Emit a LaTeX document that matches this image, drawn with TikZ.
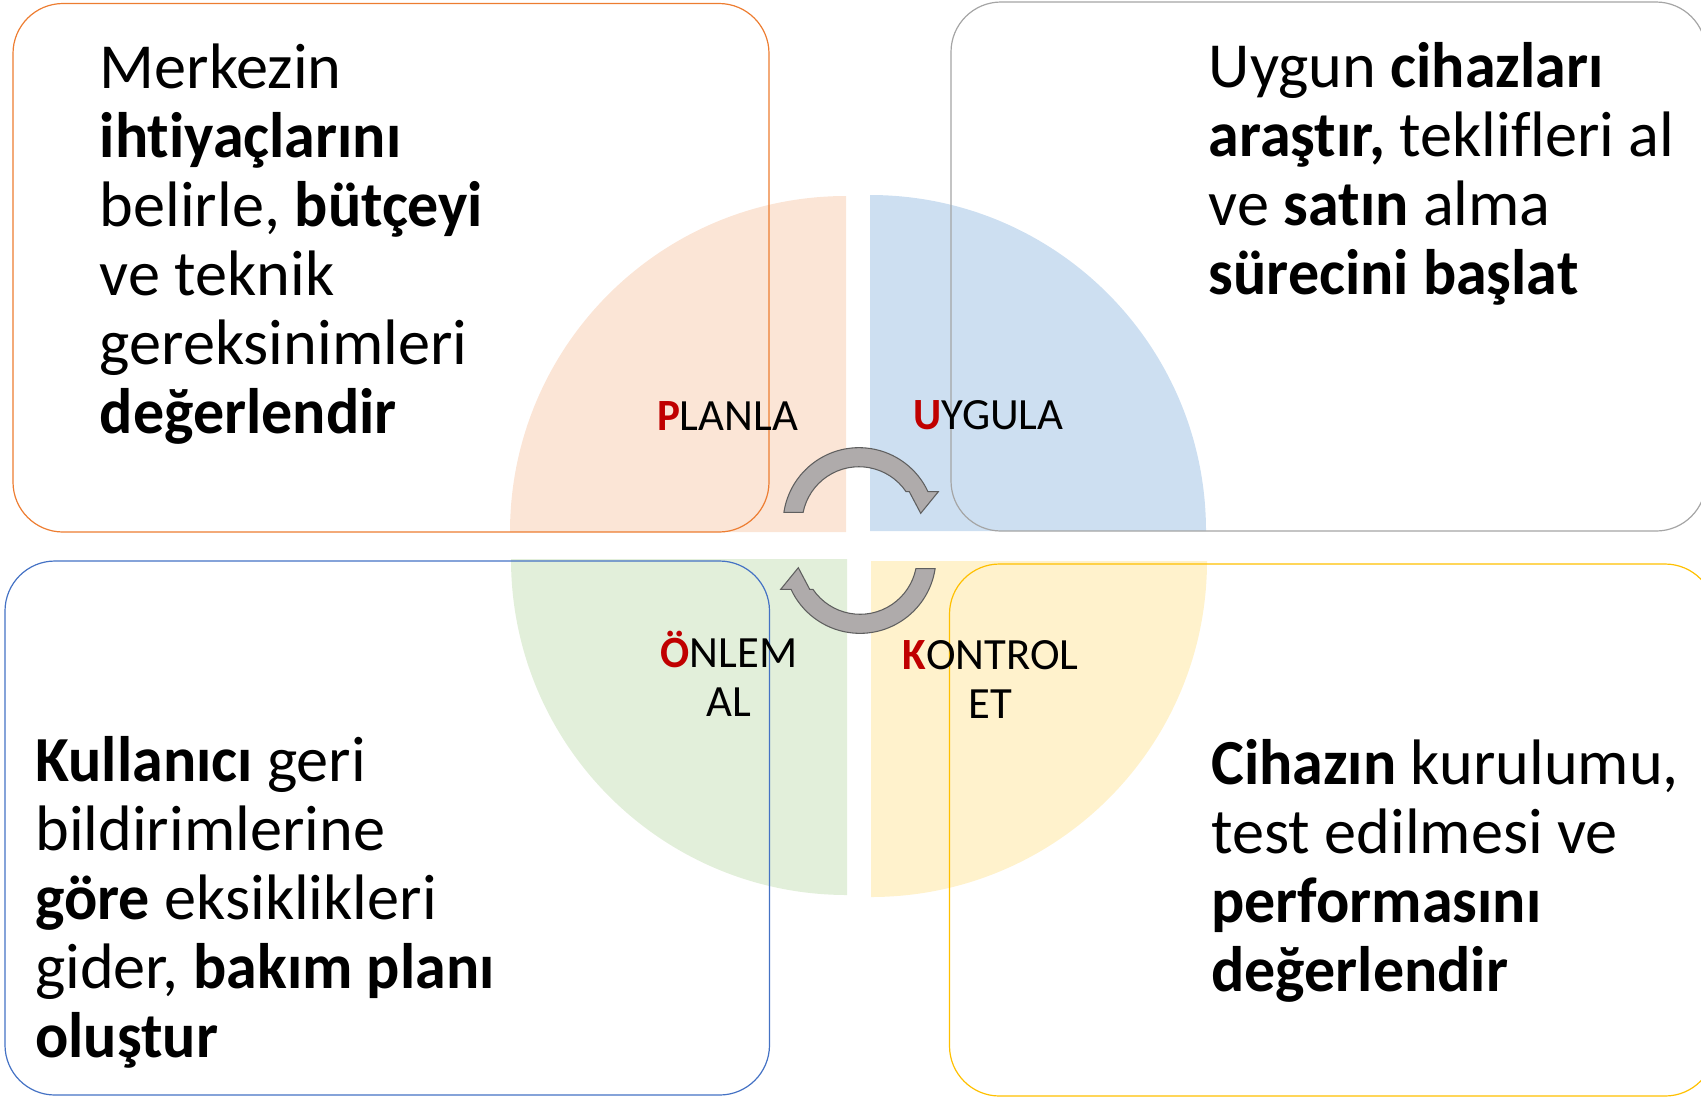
\documentclass[tikz,border=0pt]{standalone}
\usepackage{fontspec}
\setmainfont{Carlito}[Ligatures=NoCommon, BoldFeatures={FakeStretch=0.965}]
\definecolor{qpeach}{HTML}{FBE5D6}
\definecolor{qblue}{HTML}{CDDFF1}
\definecolor{qgreen}{HTML}{E2EFDA}
\definecolor{qyellow}{HTML}{FFF2CC}
\definecolor{borange}{HTML}{ED7D31}
\definecolor{bgray}{HTML}{A5A5A5}
\definecolor{bblue}{HTML}{4472C4}
\definecolor{bgold}{HTML}{FFC000}
\definecolor{arrfill}{HTML}{AFABAB}
\definecolor{arrline}{HTML}{5F5F5F}
\definecolor{pdcared}{HTML}{C00000}
\begin{document}
\begin{tikzpicture}[x=0.75pt,y=-0.75pt,
  card/.style={rounded corners=37.5pt, line width=0.9pt},
  bigtext/.style={anchor=base west, inner sep=0pt,
    font={\fontsize{48.2}{51.75}\selectfont\lineskiplimit=-100pt}},
  phase/.style={anchor=base, inner sep=0pt,
    font={\fontsize{33.5}{36.75}\selectfont\lineskiplimit=-100pt}},
  cyclearrow/.pic={
    \filldraw[fill=arrfill, draw=arrline, line width=0.8pt, line join=miter]
      (-75.1,-11.4) arc[start angle=188.6, end angle=335.1, radius=76]
      -- (79.3,-32) -- (61.7,-10.4) -- (50.3,-32) -- (47.1,-32)
      arc[start angle=325.8, end angle=191.5, radius=57] -- cycle;
  }]
\path[use as bounding box] (0,0) rectangle (1701,1097);
\clip (0,0) rectangle (1701,1097);

% quarter disks
\fill[qpeach]  (846,532) -- (510,532) arc[start angle=180, end angle=270, radius=336] -- cycle;
\fill[qblue]   (870,531) -- (870,195) arc[start angle=270, end angle=360, radius=336] -- cycle;
\fill[qgreen]  (847,559) -- (511,559) arc[start angle=180, end angle=90, radius=336] -- cycle;
\fill[qyellow] (871,561) -- (1207,561) arc[start angle=0, end angle=90, radius=336] -- cycle;

% cards
\draw[card, draw=borange] (13,3.5) rectangle (769,532);
\draw[card, draw=bgray]   (951,2) rectangle (1706,531);
\draw[card, draw=bblue]   (5,561) rectangle (769.5,1095);
\draw[card, draw=bgold]   (949.5,564) rectangle (1715,1096);

% cycle arrows
\pic at (859,523.7) {cyclearrow};
\pic[rotate=180] at (860,557.3) {cyclearrow};

% phase labels
\node[phase] (planla) at (727.5,430) {\textbf{\textcolor{pdcared}{P}}LANLA};
\node[phase] (uygula) at (988.5,429) {\textbf{\textcolor{pdcared}{U}}YGULA};
\node[phase] (onlem) at (729,667.5) {\vtop{\halign{\hfil#\hfil\cr \textbf{\textcolor{pdcared}{Ö}}NLEM\cr AL\cr}}};
\node[phase] (kontrol) at (990.5,669.5) {\vtop{\halign{\hfil#\hfil\cr \textbf{\textcolor{pdcared}{K}}ONTROL\cr ET\cr}}};

% texts
\node[bigtext] (tltext) at (99.5,88.6) {\vtop{%
  \hbox{Merkezin}
  \hbox{\textbf{ihtiyaçlarını}}
  \hbox{belirle, \textbf{bütçeyi}}
  \hbox{ve teknik}
  \hbox{gereksinimleri}
  \hbox{\textbf{değerlendir}}}};
\node[bigtext] (trtext) at (1208.5,87.5) {\vtop{%
  \hbox{Uygun \textbf{cihazları}}
  \hbox{\textbf{araştır,} teklifleri al}
  \hbox{ve \textbf{satın} alma}
  \hbox{\textbf{sürecini başlat}}}};
\node[bigtext] (bltext) at (35,781.6) {\vtop{%
  \hbox{\textbf{Kullanıcı} geri}
  \hbox{bildirimlerine}
  \hbox{\textbf{göre} eksiklikleri}
  \hbox{gider, \textbf{bakım planı}}
  \hbox{\textbf{oluştur}}}};
\node[bigtext] (brtext) at (1211,784) {\vtop{%
  \hbox{\textbf{Cihazın} kurulumu,}
  \hbox{test edilmesi ve}
  \hbox{\textbf{performasını}}
  \hbox{\textbf{değerlendir}}}};
\end{tikzpicture}
\end{document}
